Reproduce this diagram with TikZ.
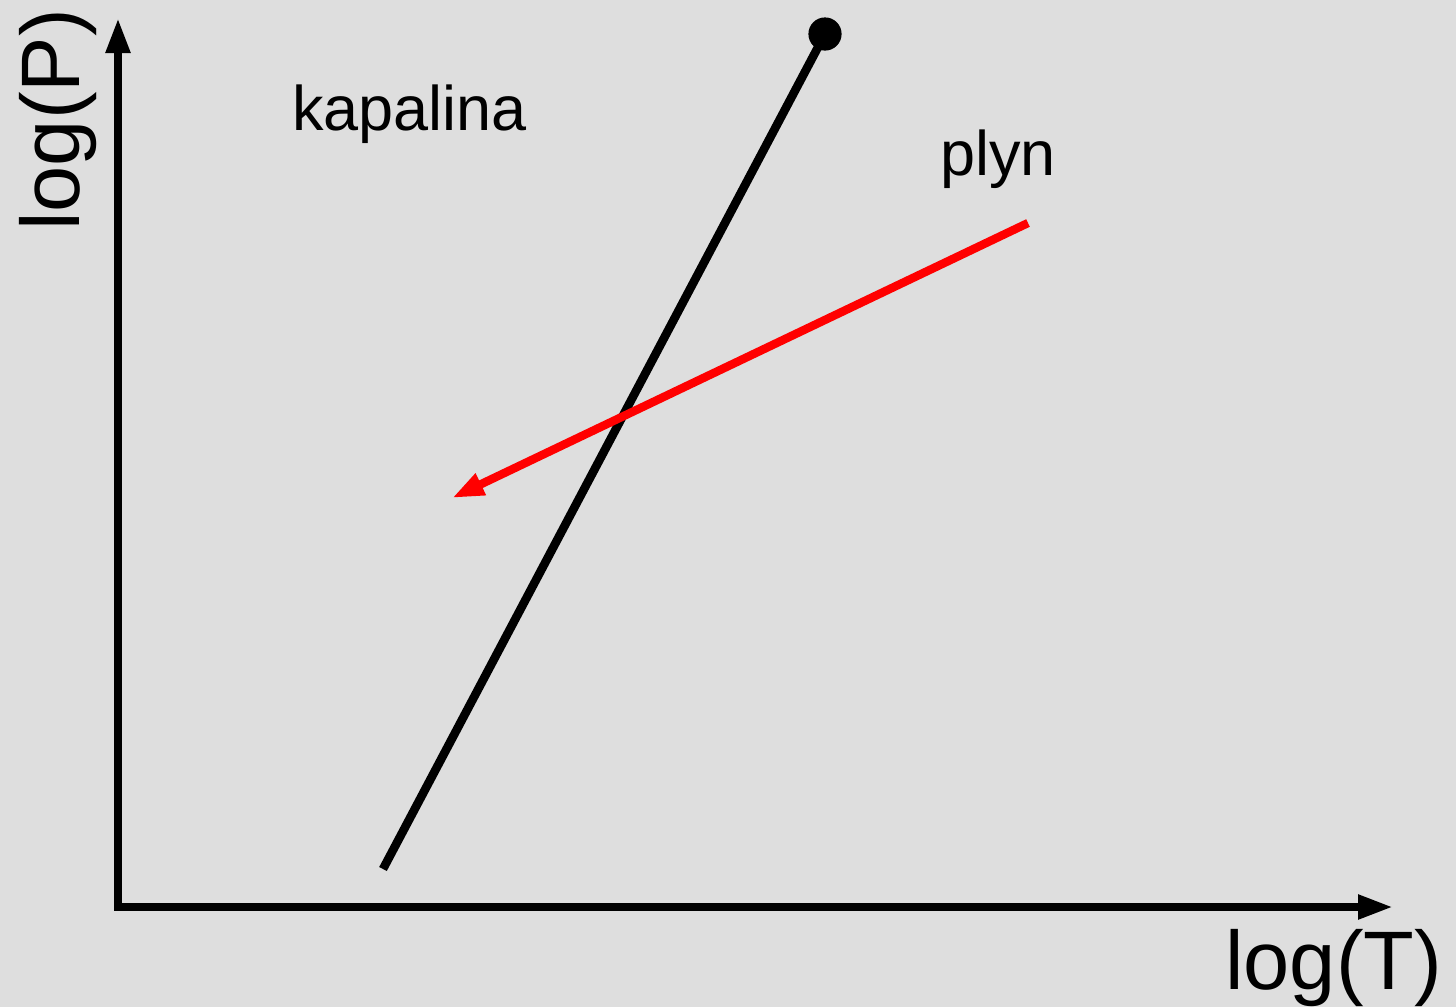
\documentclass[tikz,border=0pt]{standalone}
\usepackage{fontspec}
\setmainfont{Liberation Sans}
\usetikzlibrary{arrows.meta}
\definecolor{bggray}{RGB}{222,222,222}
\begin{document}
\begin{tikzpicture}[x=0.5pt,y=-0.5pt, line join=round,
    axis/.style={line width=4pt,-{Triangle[length=17.5pt,width=11.5pt]}},
    label/.style={inner sep=0pt,anchor=base west,font=\fontsize{31.5}{36}\selectfont},
    axlabel/.style={inner sep=0pt,anchor=base west,font=\fontsize{41.5}{48}\selectfont}]
        \fill[bggray] (0,0) rectangle (1456,1007);
        \useasboundingbox (0,0) rectangle (1456,1007);
        \coordinate (O) at (118,907);
        \coordinate (ytip) at (118,18);
        \coordinate (xtip) at (1393,907);
        \coordinate (low) at (383,869);
        \coordinate (crit) at (825,34);
        \coordinate (rstart) at (1028,223);
        \coordinate (rend) at (452,498);
        \draw[axis] (O)--(ytip);
        \draw[axis] ([xshift=-2pt]O)--(xtip);
        \draw[line width=4.3pt] (low)--(crit);
        \fill[black] (crit) circle (8.3pt);
        \draw[red,line width=4.2pt,-{Triangle[length=16pt,width=11pt]}] (rstart)--(rend);
        \node[label] (liq) at (292,130) {kapalina};
        \node[label] (gas) at (940,175) {plyn};
        \node[axlabel] (xlab) at (1225,989) {log(T)};
        \node[axlabel,rotate=90] (ylab) at (79,231) {log(P)};
    \end{tikzpicture}
\end{document}
